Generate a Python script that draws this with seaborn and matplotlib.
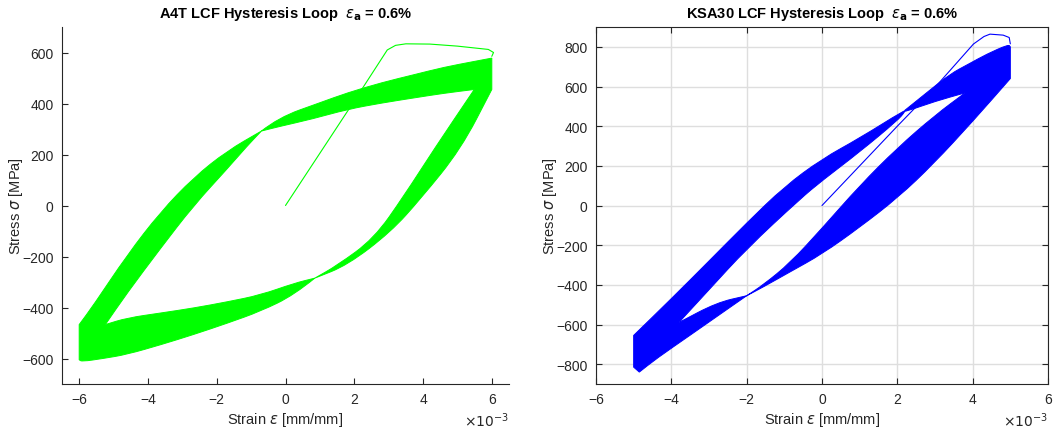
import numpy as np
import pandas as pd
import matplotlib
matplotlib.use("Agg")
import matplotlib.pyplot as plt
from matplotlib.path import Path
from matplotlib.patches import PathPatch
import seaborn as sns

# ---------------- A4T (left panel) ----------------
# initial (first) loading curve, strain in 1e-3 mm/mm, stress in MPa
a4t_init_strain = [0.0, 1.0, 2.0, 2.96, 3.2, 3.5, 4.2, 5.0, 5.9, 6.05, 6.0]
a4t_init_stress = [0, 205, 410, 610, 628, 634, 633, 625, 612, 600, 585]

# upper-right part of the cycle band (ascending plastic + descending elastic)
a4t_ur_outer_strain = [-0.7, -0.2, 1.0, 1.8, 2.8, 3.74, 4.6, 5.49, 6.0, 6.0, 5.1, 3.93, 3.06, 1.8, 0.85]
a4t_ur_outer_stress = [292, 345, 403, 442, 482, 513, 542, 565, 578, 455, 221, 26, -104, -234, -285]
a4t_ur_inner_strain = [0.85, 1.5, 2.57, 3.45, 4.32, 5.49, 4.6, 3.74, 2.8, 1.8, 0.8, -0.2, -0.7]
a4t_ur_inner_stress = [-285, -235, -130, 39, 221, 455, 440, 422, 402, 377, 340, 309, 292]

# lower-left part of the cycle band (descending plastic + ascending elastic)
a4t_ll_outer_strain = [0.85, 0.25, -0.73, -1.7, -2.67, -3.6, -4.61, -5.3, -5.92, -6.0, -6.0, -5.58, -4.61, -3.64, -2.67, -1.7, -0.7]
a4t_ll_outer_stress = [-285, -351, -415, -462, -506, -545, -584, -600, -612, -605, -467, -390, -195, -26, 110, 214, 292]
a4t_ll_inner_strain = [-0.7, -1.11, -1.7, -2.67, -3.64, -4.61, -5.24, -4.61, -3.6, -2.67, -1.7, -0.73, 0.25, 0.85]
a4t_ll_inner_stress = [292, 234, 143, 0, -169, -344, -467, -441, -421, -402, -378, -351, -305, -285]

# ---------------- KSA30 (right panel) ----------------
ksa_init_strain = [0.0, 1.0, 2.0, 3.04, 4.02, 4.3, 4.46, 4.81, 4.97, 5.0]
ksa_init_stress = [0, 200, 400, 604, 814, 852, 864, 859, 847, 815]

ksa_ur_outer_strain = [2.2, 2.8, 3.4, 3.9, 4.37, 4.95, 5.0, 5.0, 4.02, 2.96, 2.03, 1.0, 0.0, -0.85, -1.56, -2.0]
ksa_ur_outer_stress = [480, 572, 663, 714, 763, 812, 800, 640, 428, 210, 42, -110, -245, -335, -411, -455]
ksa_ur_inner_strain = [-2.0, -1.56, -0.85, 0.0, 1.0, 2.0, 3.0, 3.8, 3.0, 2.2]
ksa_ur_inner_stress = [-455, -400, -290, -115, 100, 290, 455, 568, 525, 472]

ksa_ll_outer_strain = [-2.0, -2.62, -3.5, -4.39, -4.85, -5.0, -5.0, -4.0, -3.0, -2.0, -1.0, 0.0, 1.0, 2.2]
ksa_ll_outer_stress = [-455, -537, -654, -771, -840, -815, -655, -470, -280, -88, 95, 235, 340, 482]
ksa_ll_inner_strain = [2.2, 2.0, 1.0, 0.0, -0.58, -2.0, -3.0, -3.8, -2.8, -2.0]
ksa_ll_inner_stress = [472, 428, 270, 125, 33, -218, -425, -590, -490, -455]

x_ticks = [-6, -4, -2, 0, 2, 4, 6]
a4t_yticks = [-600, -400, -200, 0, 200, 400, 600]
ksa_yticks = [-800, -600, -400, -200, 0, 200, 400, 600, 800]

GREEN = "#00ff00"
BLUE = "#0000ff"
TXT = "#262626"

sns.set_theme(style="white")
plt.rcParams["font.family"] = ["Liberation Sans", "DejaVu Sans"]
plt.rcParams["mathtext.fontset"] = "dejavusans"

fig = plt.figure(figsize=(10.55, 4.39), dpi=100)
W, H = 1055, 439
axL = fig.add_axes([62 / W, 1 - 385 / H, (509 - 62) / W, (385 - 28) / H])
axR = fig.add_axes([596 / W, 1 - 385 / H, (1048 - 596) / W, (385 - 28) / H])


def leaf(ax, os_, oy, is_, iy, outer_corners, inner_corners, color):
    """Fill one part of the cycle band; the outline is drawn as a smooth
    quadratic path through the read points (sharp at the corner indices)."""
    pts = []
    for i, p in enumerate(zip(os_, oy)):
        pts.append(p)
        if i in outer_corners:
            pts.append(p)
    for i, p in enumerate(zip(is_, iy)):
        pts.append(p)
        if i in inner_corners:
            pts.append(p)
    pts.append(pts[0])
    pts.append(pts[0])
    verts = [pts[0]]
    codes = [Path.MOVETO]
    for i in range(1, len(pts) - 1):
        mid = ((pts[i][0] + pts[i + 1][0]) / 2, (pts[i][1] + pts[i + 1][1]) / 2)
        verts += [pts[i], mid]
        codes += [Path.CURVE3, Path.CURVE3]
    verts.append(pts[-1])
    codes.append(Path.LINETO)
    patch = PathPatch(Path(verts, codes), facecolor=color, edgecolor=color,
                      lw=0.7, zorder=2, transform=ax.transData)
    ax.add_patch(patch)


def init_line(ax, xs, ys, color):
    df = pd.DataFrame({"strain": xs, "stress": ys})
    sns.lineplot(data=df, x="strain", y="stress", sort=False, estimator=None,
                 color=color, lw=0.8, ax=ax, zorder=3)


# left panel
leaf(axL, a4t_ur_outer_strain, a4t_ur_outer_stress, a4t_ur_inner_strain, a4t_ur_inner_stress,
     {8, 9}, {5}, GREEN)
leaf(axL, a4t_ll_outer_strain, a4t_ll_outer_stress, a4t_ll_inner_strain, a4t_ll_inner_stress,
     {9, 10}, {6}, GREEN)
init_line(axL, a4t_init_strain, a4t_init_stress, GREEN)

# right panel
leaf(axR, ksa_ur_outer_strain, ksa_ur_outer_stress, ksa_ur_inner_strain, ksa_ur_inner_stress,
     {6, 7}, {7}, BLUE)
leaf(axR, ksa_ll_outer_strain, ksa_ll_outer_stress, ksa_ll_inner_strain, ksa_ll_inner_stress,
     {4, 5, 6}, {7}, BLUE)
init_line(axR, ksa_init_strain, ksa_init_stress, BLUE)

for ax, yt, ylim, title, boxed in [
    (axL, a4t_yticks, (-700, 700), r"A4T LCF Hysteresis Loop  $\epsilon_{\mathbf{a}}$ = 0.6%", False),
    (axR, ksa_yticks, (-900, 900), r"KSA30 LCF Hysteresis Loop  $\epsilon_{\mathbf{a}}$ = 0.6%", True),
]:
    ax.set_xticks(x_ticks)
    ax.set_yticks(yt)
    ax.set_ylim(*ylim)
    if boxed:
        ax.set_xlim(-6, 6)
        ax.grid(True, color="#dedede", lw=1.0, zorder=0)
        ax.set_axisbelow(True)
        ax.tick_params(top=True, right=True)
    else:
        ax.set_xlim(-6.5, 6.5)
        ax.grid(False)
        ax.spines["top"].set_visible(False)
        ax.spines["right"].set_visible(False)
    for s in ax.spines.values():
        s.set_color(TXT)
        s.set_linewidth(0.8)
    ax.tick_params(direction="in", length=4, width=0.8, color=TXT, labelcolor=TXT,
                   labelsize=10, pad=6, bottom=True, left=True)
    ax.set_xlabel(r"Strain $\epsilon$ [mm/mm]", fontsize=10.5, color=TXT, labelpad=3)
    ax.set_ylabel(r"Stress $\sigma$ [MPa]", fontsize=10.5, color=TXT, labelpad=-2)
    ax.set_title(title, fontsize=10.5, fontweight="bold", color="black", pad=7)
    ax.text(1.0, -0.10, r"$\times10^{-3}$", transform=ax.transAxes, ha="right",
            va="center", fontsize=10, color=TXT)

fig.savefig("out.png", dpi=100, facecolor="white")
